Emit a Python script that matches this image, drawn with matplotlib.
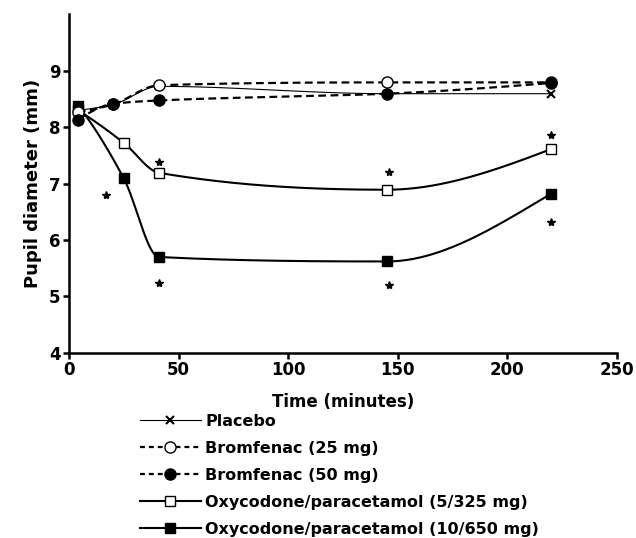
import numpy as np
import matplotlib
matplotlib.use("Agg")
import matplotlib.pyplot as plt

plt.rcParams['font.family'] = ['DejaVu Sans']
plt.rcParams['font.weight'] = 'bold'

# data (time in minutes, pupil diameter in mm)
t_placebo = [4, 20, 41, 145, 220]
placebo = [8.30, 8.40, 8.72, 8.59, 8.59]

t_brom = [4, 20, 41, 145, 220]
brom25 = [8.26, 8.40, 8.74, 8.79, 8.79]
brom50 = [8.13, 8.41, 8.47, 8.59, 8.78]

t_oxy = [4, 25, 41, 145, 220]
oxy5 = [8.30, 7.72, 7.19, 6.89, 7.61]
oxy10 = [8.38, 7.09, 5.70, 5.62, 6.82]

# significance stars
star_t = [17, 41, 41, 146, 146, 220, 220]
star_y = [6.80, 7.38, 5.23, 7.20, 5.21, 7.85, 6.32]

labels = ["Placebo", "Bromfenac (25 mg)", "Bromfenac (50 mg)",
          "Oxycodone/paracetamol (5/325 mg)", "Oxycodone/paracetamol (10/650 mg)"]


def pchip(x, y, n=300):
    # monotone cubic interpolation, for the smooth curves
    x = np.asarray(x, float)
    y = np.asarray(y, float)
    h = np.diff(x)
    d = np.diff(y) / h
    m = np.zeros_like(y)
    for k in range(1, len(x) - 1):
        if d[k - 1] * d[k] > 0:
            w1 = 2 * h[k] + h[k - 1]
            w2 = h[k] + 2 * h[k - 1]
            m[k] = (w1 + w2) / (w1 / d[k - 1] + w2 / d[k])
    m[0] = ((2 * h[0] + h[1]) * d[0] - h[0] * d[1]) / (h[0] + h[1])
    if np.sign(m[0]) != np.sign(d[0]):
        m[0] = 0
    m[-1] = ((2 * h[-1] + h[-2]) * d[-1] - h[-1] * d[-2]) / (h[-1] + h[-2])
    if np.sign(m[-1]) != np.sign(d[-1]):
        m[-1] = 0
    xs = np.linspace(x[0], x[-1], n)
    idx = np.clip(np.searchsorted(x, xs) - 1, 0, len(h) - 1)
    s = (xs - x[idx]) / h[idx]
    h00 = 2 * s**3 - 3 * s**2 + 1
    h10 = s**3 - 2 * s**2 + s
    h01 = -2 * s**3 + 3 * s**2
    h11 = s**3 - s**2
    ys = (h00 * y[idx] + h10 * h[idx] * m[idx]
          + h01 * y[idx + 1] + h11 * h[idx] * m[idx + 1])
    return xs, ys


fig = plt.figure(figsize=(6.36, 5.38), dpi=100)
ax = fig.add_axes([0.1085, 0.3439, 0.8616, 0.630])

handles = []

# placebo: thin solid line with x
xs, ys = pchip(t_placebo, placebo)
ax.plot(xs, ys, color='black', lw=0.8)
ax.plot(t_placebo, placebo, ls='none', marker='x', ms=5.5, mew=1.5, color='black')
handles.append(plt.Line2D([], [], color='black', lw=0.8, marker='x', ms=5.5, mew=1.5))

# oxycodone: solid splines with squares
for vals, fc in [(oxy5, 'white'), (oxy10, 'black')]:
    xs, ys = pchip(t_oxy, vals)
    ax.plot(xs, ys, color='black', lw=1.5)
    ax.plot(t_oxy, vals, ls='none', marker='s', ms=7, mfc=fc, mec='black', mew=1.0)

# bromfenac: dashed with circles
for vals, fc in [(brom25, 'white'), (brom50, 'black')]:
    xs, ys = pchip(t_brom, vals)
    ax.plot(xs, ys, color='black', lw=1.6, dashes=(3.5, 2))
    ax.plot(t_brom, vals, ls='none', marker='o', ms=8, mfc=fc, mec='black', mew=1.0)
    handles.append(plt.Line2D([], [], color='black', lw=1.6, dashes=(2.2, 1.8),
                              marker='o', ms=8, mfc=fc, mec='black', mew=1.0))

for fc in ['white', 'black']:
    handles.append(plt.Line2D([], [], color='black', lw=1.5, marker='s', ms=7,
                              mfc=fc, mec='black', mew=1.0))

ax.plot(star_t, star_y, ls='none', marker='*', ms=6, color='black')

ax.set_xlim(0, 250)
ax.set_ylim(4, 10)
ax.set_xticks(np.arange(0, 251, 50))
ax.set_yticks(np.arange(4, 10, 1))
for s in ['top', 'right']:
    ax.spines[s].set_visible(False)
for s in ['left', 'bottom']:
    ax.spines[s].set_linewidth(1.8)
ax.tick_params(width=1.8, length=4, labelsize=12, pad=2)

ax.set_xlabel("Time (minutes)", fontsize=12, fontweight='bold', labelpad=10)
ax.set_ylabel("Pupil diameter (mm)", fontsize=13, fontweight='bold', labelpad=5)

fig.legend(handles, labels, loc='upper left', bbox_to_anchor=(140 / 636, 1 - 414 / 538),
           frameon=False, fontsize=11.5, handlelength=3.8, handletextpad=0.3,
           labelspacing=0.75, borderpad=0, borderaxespad=0)

fig.savefig("out.png", dpi=100)
